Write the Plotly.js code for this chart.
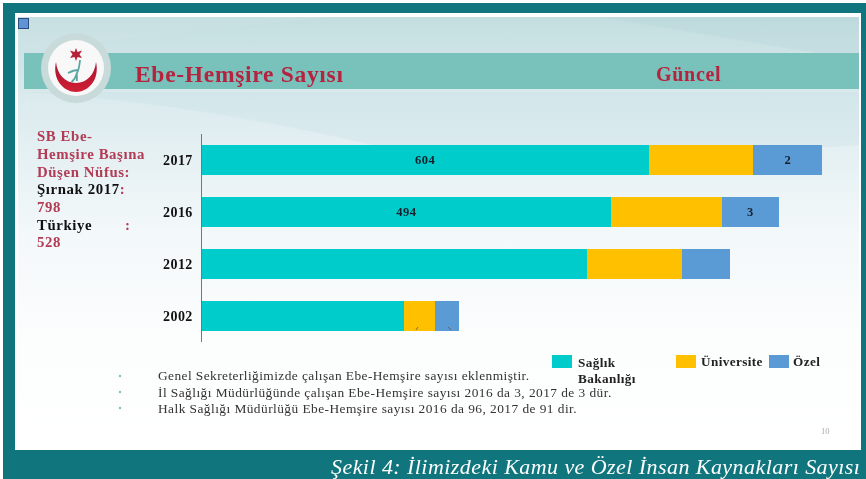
<!DOCTYPE html>
<html><head><meta charset="utf-8">
<script src="https://cdn.plot.ly/plotly-3.0.1.min.js"></script>
<style>
html,body{margin:0;padding:0;background:#fff;width:866px;height:479px;overflow:hidden}
#frame{position:absolute;left:3px;top:3px;width:863px;height:476px;background:#10757d}
#inner{position:absolute;left:15px;top:13px;width:846px;height:437px;background:#fff}
#bg{position:absolute;left:0;top:0}
#chart{position:absolute;left:0;top:0;width:866px;height:479px;filter:blur(0.35px)}
#chart .ytick text{letter-spacing:.4px}
#chart text.bartext{letter-spacing:.5px}
</style></head><body>
<div id="frame"></div><div id="inner"></div>
<svg id="bg" width="866" height="479" viewBox="0 0 866 479">
<defs>
<linearGradient id="g" x1="0" y1="0" x2="0" y2="1">
<stop offset="0" stop-color="#c3dee0"/><stop offset=".2" stop-color="#dcebee"/><stop offset=".5" stop-color="#f3f8fa"/><stop offset=".75" stop-color="#fcfdfd"/><stop offset="1" stop-color="#ffffff"/>
</linearGradient>
<linearGradient id="cr" x1="0" y1="0" x2="0" y2="1"><stop offset="0" stop-color="#a8152f"/><stop offset="1" stop-color="#d01f35"/></linearGradient>
</defs>
<rect x="18" y="17" width="841" height="431" fill="url(#g)"/>
<path d="M18 17H330L18 50Z" fill="#fff" opacity=".06"/>
<path d="M600 17H859V60Z" fill="#a9cfd2" opacity=".2"/>
<path d="M18 92C150 98 330 130 470 170L859 145V92Z" fill="#c3dde1" opacity=".28"/>
<rect x="24" y="53" width="835" height="36" fill="#79c1bb"/>
<circle cx="76" cy="68" r="35" fill="#c8dbda"/>
<circle cx="76" cy="68" r="28" fill="#f7f8f7"/>
<path d="M56 62C52 80 64 92 76 92C88 92 100 80 96 62C95 74 87 83 76 83C65 83 57 74 56 62Z" fill="url(#cr)"/>
<path d="M76 48L77.500 52L82 50.500L79.500 54.500L82 58L77.500 57L76 61L74.500 57L70 58L72.500 54.500L70 50.500L74.500 52Z" fill="#b81f38"/>
<path d="M80 60C79.500 66 78.500 70 77 73C76 77 74 80 71.500 82M78 70C75 70 72 71 68 73M76.500 73C77.500 76 76.500 78 77 81" stroke="#5aa6a3" stroke-width="1.800" fill="none"/>
<rect x="18.500" y="18.500" width="10" height="10" fill="#5f93d3" stroke="#2b4a7d" stroke-width="1"/>
<circle cx="120" cy="376" r="1.200" fill="#7fc0be"/><circle cx="120" cy="392" r="1.200" fill="#7fc0be"/><circle cx="120" cy="408" r="1.200" fill="#7fc0be"/>
</svg>
<div id="chart"></div>
<script>
const categories = ['2017', '2016', '2012', '2002'];
const saglik = [604, 553, 520, 273];
const universite = [141, 149, 128, 42];
const ozel = [93, 78, 66, 32];
const saglikLabels = ['604', '494', '', ''];
const universiteLabels = ['', '', '', ''];
const ozelLabels = ['2', '3', '', ''];
const seriesNames = ['Sağlık Bakanlığı', 'Üniversite', 'Özel'];
const seriesColors = ['#00cccc', '#ffc000', '#5b9bd5'];

const W = 866, H = 479, L = 202, R = 860, T = 134, B = 342;
const fx = x => (x - L) / (R - L);
const fy = y => (B - y) / (B - T);
const serif = 'Liberation Serif, serif';
const red = '#b5243f', softRed = '#b23b55', ink = '#111';

function bar(i, xs, labels) {
  return {type: 'bar', orientation: 'h', name: seriesNames[i], x: xs, y: categories,
    marker: {color: seriesColors[i]}, text: labels, textposition: 'inside', insidetextanchor: 'middle',
    textangle: 0, cliponaxis: false, constraintext: 'none',
    textfont: {family: serif, size: 12.5, color: '#15202b', weight: 700}, hoverinfo: 'x+y+name'};
}
const spacings = [];
function note(x, y, text, size, color, gap) {
  spacings.push(gap);
  return {xref: 'paper', yref: 'paper', x: fx(x), y: fy(y), text: text, showarrow: false,
    xanchor: 'left', yanchor: 'middle', align: 'left', borderpad: 0,
    font: {family: serif, size: size, color: color}};
}
const b = t => '<b>' + t + '</b>';
const annotations = [
  note(134, 74, b('Ebe-Hemşire Sayısı'), 23.5, red, .7),
  note(655, 74, b('Güncel'), 20, red, .7),
  note(36, 136, b('SB Ebe-'), 14.8, softRed, .6),
  note(36, 154, b('Hemşire Başına'), 14.8, softRed, .6),
  note(36, 172, b('Düşen Nüfus:'), 14.8, softRed, .6),
  note(36, 189, b('Şırnak 2017<span style="color:' + softRed + '">:</span>'), 14.8, ink, .6),
  note(36, 207, b('798'), 14.8, softRed, .6),
  note(36, 225, b('Türkiye'), 14.8, ink, .6),
  note(124, 225, b(':'), 14.8, softRed, 0),
  note(36, 242, b('528'), 14.8, softRed, .6),
  note(157, 375, 'Genel Sekreterliğimizde çalışan Ebe-Hemşire sayısı eklenmiştir.', 13.4, '#333', .42),
  note(157, 392, 'İl Sağlığı Müdürlüğünde çalışan Ebe-Hemşire sayısı 2016 da 3, 2017 de 3 dür.', 13.4, '#333', .44),
  note(157, 408, 'Halk Sağlığı Müdürlüğü Ebe-Hemşire sayısı 2016 da 96, 2017 de 91 dir.', 13.4, '#333', .44),
  note(577, 362, b('Sağlık'), 13.2, '#222', .4),
  note(577, 378, b('Bakanlığı'), 13.2, '#222', .4),
  note(700, 361, b('Üniversite'), 13.2, '#222', .4),
  note(792, 361, b('Özel'), 13.2, '#222', .4),
  note(820, 431, '10', 8.5, '#aaa', 0),
  note(330, 466, '<i>Şekil 4: İlimizdeki Kamu ve Özel İnsan Kaynakları Sayısı</i>', 22, '#fff', .44)
];
function swatch(x0, x1, color) {
  return {type: 'rect', xref: 'paper', yref: 'paper', x0: fx(x0), x1: fx(x1), y0: fy(368), y1: fy(355),
    fillcolor: color, line: {width: 0}};
}
function tick(x0, y0, x1, y1) {
  return {type: 'line', xref: 'paper', yref: 'paper', x0: fx(x0), x1: fx(x1), y0: fy(y0), y1: fy(y1),
    line: {color: '#555', width: 0.8}};
}
const layout = {
  width: W, height: H,
  margin: {l: L, r: W - R, t: T, b: H - B, pad: 0},
  paper_bgcolor: 'rgba(0,0,0,0)', plot_bgcolor: 'rgba(0,0,0,0)',
  barmode: 'stack', bargap: 0.44, showlegend: false,
  font: {family: serif},
  xaxis: {range: [0, 889], visible: false, fixedrange: true},
  yaxis: {type: 'category', categoryorder: 'array', categoryarray: categories.slice().reverse(),
    showline: true, linecolor: '#777', linewidth: 1.5, showgrid: false, zeroline: false, ticks: '',
    tickfont: {family: serif, size: 14, color: ink, weight: 700}, ticklabelstandoff: 5, fixedrange: true},
  annotations: annotations,
  shapes: [swatch(552, 572, seriesColors[0]), swatch(676, 696, seriesColors[1]), swatch(769, 789, seriesColors[2]),
    tick(416, 330, 418, 327), tick(448, 327, 451, 330)]
};
Plotly.newPlot('chart', [bar(0, saglik, saglikLabels), bar(1, universite, universiteLabels), bar(2, ozel, ozelLabels)], layout, {displayModeBar: false, staticPlot: true}).then(function (gd) {
  gd.querySelectorAll('.annotation').forEach(function (node) {
    const idx = +node.getAttribute('data-index');
    const t = node.querySelector('text');
    if (t) t.style.letterSpacing = spacings[idx] + 'px';
  });
});
</script>
</body></html>
